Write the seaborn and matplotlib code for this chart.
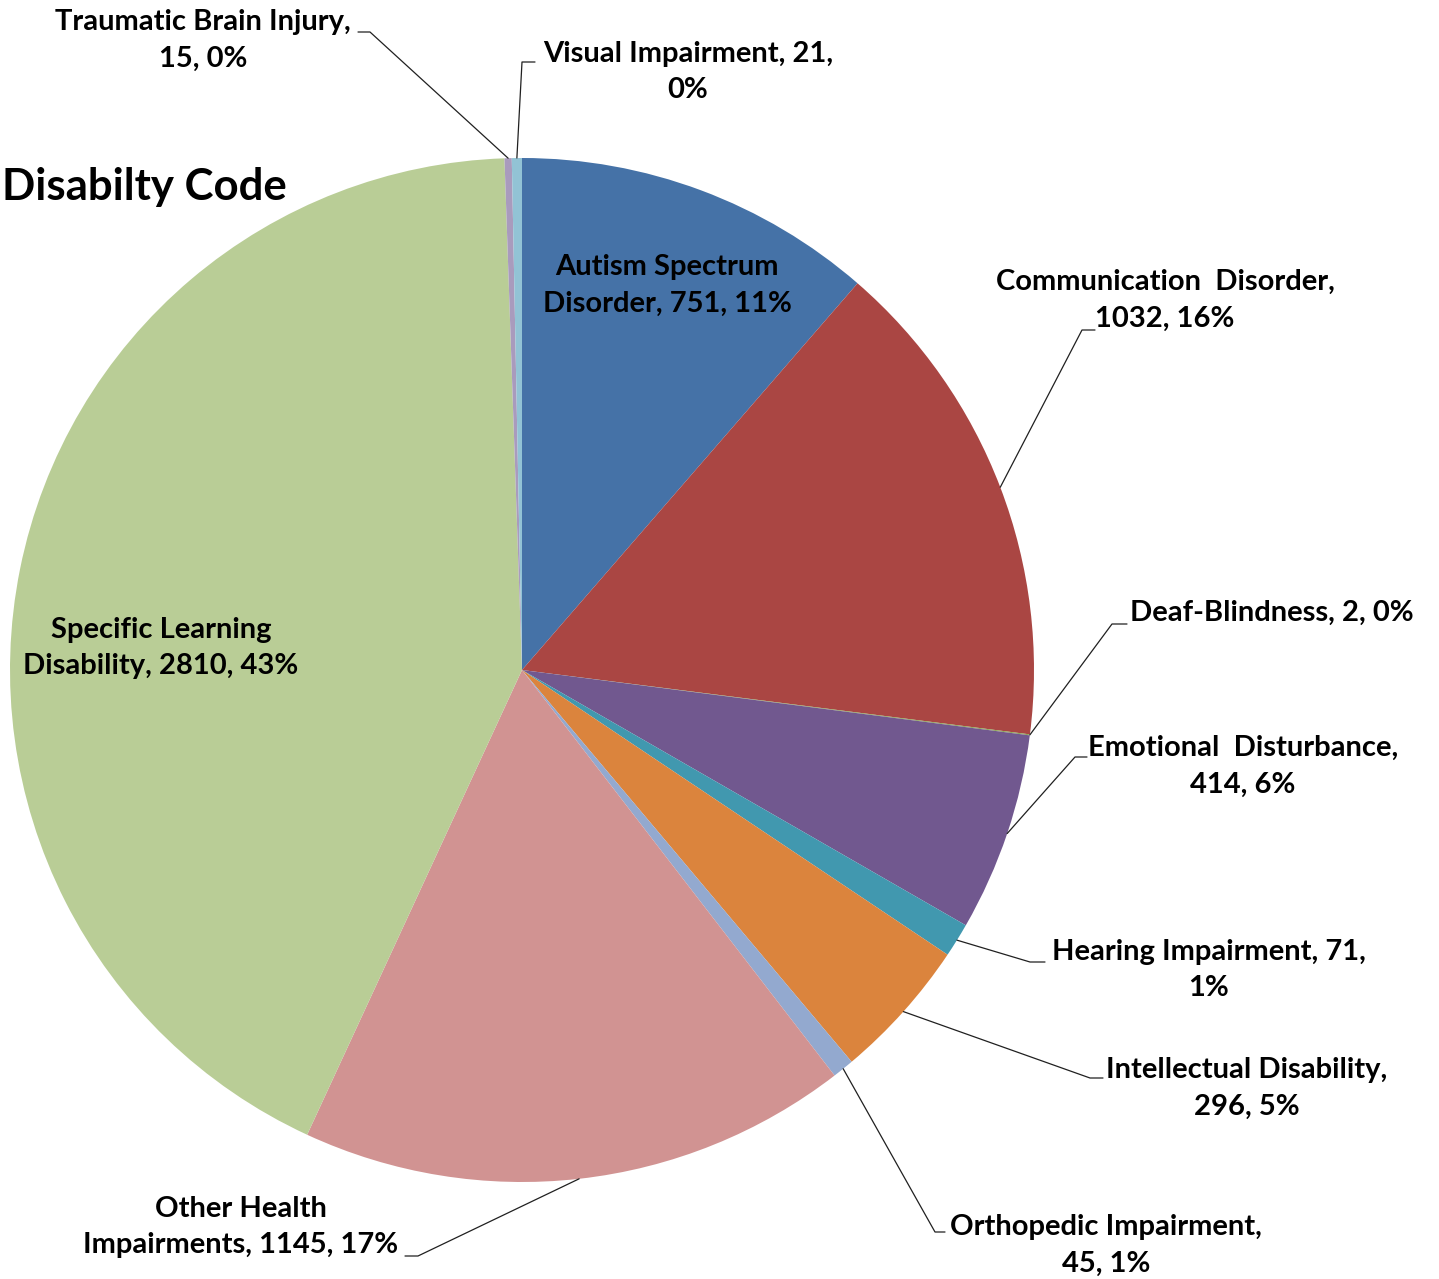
import numpy as np
import seaborn as sns
import matplotlib.pyplot as plt

# dados do gráfico (sentido horário a partir do topo)
categorias = ["Autism Spectrum Disorder", "Communication Disorder", "Deaf-Blindness",
              "Emotional Disturbance", "Hearing Impairment", "Intellectual Disability",
              "Orthopedic Impairment", "Other Health Impairments",
              "Specific Learning Disability", "Traumatic Brain Injury", "Visual Impairment"]
valores = [751, 1032, 2, 414, 71, 296, 45, 1145, 2810, 15, 21]
rotulos = ["Autism Spectrum\nDisorder, 751, 11%",
           "Communication  Disorder,\n1032, 16%",
           "Deaf-Blindness, 2, 0%",
           "Emotional  Disturbance,\n414, 6%",
           "Hearing Impairment, 71,\n1%",
           "Intellectual Disability,\n296, 5%",
           "Orthopedic Impairment,\n45, 1%",
           "Other Health\nImpairments, 1145, 17%",
           "Specific Learning\nDisability, 2810, 43%",
           "Traumatic Brain Injury,\n15, 0%",
           "Visual Impairment, 21,\n0%"]
cores = ["#4572A7", "#AA4643", "#89A54E", "#71588F", "#4198AF", "#DB843D",
         "#93A9CF", "#D19392", "#B9CD96", "#A99BBD", "#92C3D5"]

# posições dos rótulos em pixels (x, y a partir do topo)
pos_texto = [(667, 285), (1165, 300), (1272, 613), (1243, 766), (1209, 970),
             (1247, 1088), (1106, 1245), (241, 1227), (161, 648), (203, 40), (688, 72)]
# linhas de chamada: (cotovelo, fim) ou None
chamadas = [None, ((1082, 330), (1095, 330)), ((1112, 624), (1127, 624)),
            ((1075, 757), (1087, 757)), ((1030, 962), (1045, 962)),
            ((1090, 1078), (1103, 1078)), ((935, 1232), (945, 1232)),
            ((418, 1256), (405, 1256)), None,
            ((370, 32), (358, 32)), ((522, 62), (535, 62))]

W, H = 1439, 1279
sns.set_theme(style="white")
plt.rcParams['font.family'] = ['Lato', 'DejaVu Sans']

fig = plt.figure(figsize=(W / 100, H / 100), dpi=100)
ax = fig.add_axes([0, 0, 1, 1])

cx, cy, r = 522, H - 670, 512
wedges, _ = ax.pie(valores, colors=sns.color_palette(cores), startangle=90,
                   counterclock=False, center=(cx, cy), radius=r,
                   wedgeprops=dict(linewidth=0), frame=True)
ax.set_xlim(0, W)
ax.set_ylim(0, H)
ax.set_aspect('equal')
ax.axis('off')

for w, txt, (tx, ty), ch in zip(wedges, rotulos, pos_texto, chamadas):
    ax.text(tx, H - ty, txt, ha='center', va='center', fontsize=21,
            fontweight='bold', linespacing=1.52, color='black')
    if ch is not None:
        ang = np.deg2rad((w.theta1 + w.theta2) / 2)
        x0, y0 = cx + r * np.cos(ang), cy + r * np.sin(ang)
        (ex, ey), (fx, fy) = ch
        ax.plot([x0, ex, fx], [y0, H - ey, H - fy], color='#202020', lw=0.9)

ax.text(2, H - 187, "Disabilty Code", ha='left', va='center', fontsize=31.5,
        fontweight='bold', color='black')

fig.savefig("out.png", dpi=100)
